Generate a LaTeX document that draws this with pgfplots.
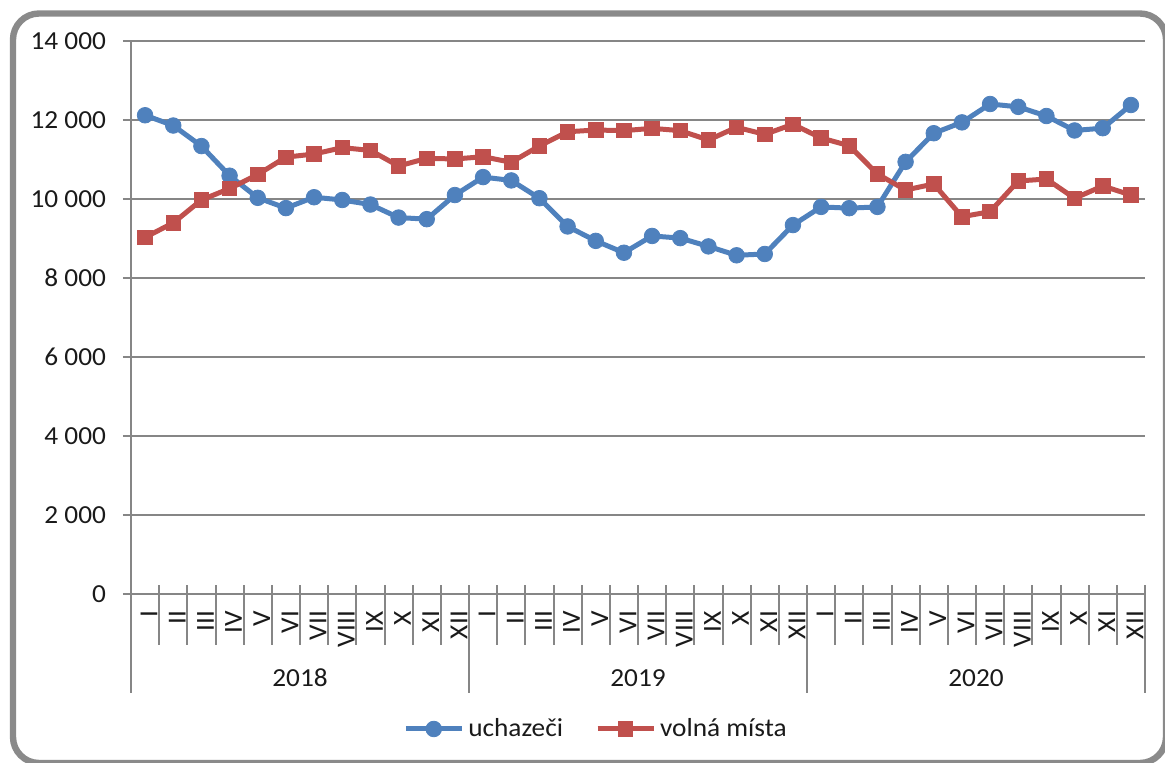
\documentclass[border=0pt]{standalone}
\usepackage{pgfplots}
\pgfplotsset{compat=1.18}
\usepackage{fontspec}
\setmainfont{Carlito}[FakeStretch=1.05]
\definecolor{ublue}{HTML}{4F81BD}
\definecolor{vred}{HTML}{C0504D}
\definecolor{gridgray}{HTML}{868686}
\definecolor{bordergray}{HTML}{8A8A8A}
\definecolor{txt}{HTML}{1A1A1A}

\pgfplotstableread{
x uch vol
0 12120 9030
1 11860 9395
2 11340 9975
3 10590 10265
4 10030 10620
5 9770 11060
6 10045 11139
7 9975 11300
8 9860 11230
9 9530 10835
10 9490 11030
11 10100 11013
12 10555 11070
13 10470 10930
14 10020 11342
15 9305 11702
16 8940 11747
17 8640 11730
18 9065 11789
19 9010 11730
20 8800 11494
21 8575 11815
22 8608 11637
23 9340 11891
24 9800 11545
25 9768 11349
26 9800 10633
27 10940 10228
28 11665 10380
29 11940 9552
30 12405 9679
31 12333 10456
32 12101 10506
33 11735 10018
34 11793 10329
35 12380 10101
}\datatable

\begin{document}
\fontsize{13}{15}\selectfont
\begin{tikzpicture}
\useasboundingbox (0,0) rectangle (582.5pt,381pt);
\begin{axis}[
  at={(65.5pt,84pt)}, anchor=south west,
  scale only axis, width=507pt, height=276.5pt,
  xmin=-0.5, xmax=35.5, ymin=0, ymax=14000,
  axis x line*=bottom, axis y line*=left,
  axis line style={gridgray, line width=1pt, -},
  scaled y ticks=false,
  ytick={0,2000,4000,6000,8000,10000,12000,14000},
  yticklabels={0,2~000,4~000,6~000,8~000,10~000,12~000,14~000},
  ymajorgrids, grid style={gridgray, line width=1pt},
  ytick style={gridgray, line width=1pt},
  tick align=outside, major tick length=4pt,
  xtick={0,...,35},
  xticklabels={I,II,III,IV,V,VI,VII,VIII,IX,X,XI,XII,I,II,III,IV,V,VI,VII,VIII,IX,X,XI,XII,I,II,III,IV,V,VI,VII,VIII,IX,X,XI,XII},
  xtick style={draw=none},
  xticklabel style={rotate=90, anchor=east, yshift=-2pt},
  yticklabel style={xshift=-4pt},
  ticklabel style={font=\fontsize{13}{15}\selectfont, color=txt},
  clip=false,
  legend style={at={(axis description cs:0.4596,-0.2441)}, anchor=center,
    draw=none, fill=none, legend columns=2, font=\fontsize{13}{15}\selectfont,
    text=txt, inner sep=0pt,
    /tikz/every even column/.append style={column sep=14pt}},
  legend cell align=left,
  legend image code/.code={\draw[#1, mark repeat=2, mark phase=2] plot coordinates {(0pt,0pt)(14pt,0pt)(28pt,0pt)};},
]
\addplot[ublue, line width=2.5pt, mark=*, mark size=3.9pt, mark options={solid, fill=ublue, line width=0.4pt}] table[x=x, y=uch] {\datatable};
\addlegendentry{uchazeči}
\addplot[vred, line width=2.5pt, mark=square*, mark size=3.6pt, mark options={solid, fill=vred, line width=0.4pt}] table[x=x, y=vol] {\datatable};
\addlegendentry{volná místa}
\end{axis}
\begin{scope}[x=0.5pt, y=-0.5pt, shift={(0pt,381pt)}]
  \foreach \i in {1,...,11,13,14,...,23,25,26,...,35}
    \draw[gridgray, line width=1pt] ({131+\i*28.1667},585) -- ({131+\i*28.1667},645);
  \foreach \i in {0,12,24,36}
    \draw[gridgray, line width=1pt] ({131+\i*28.1667},585) -- ({131+\i*28.1667},693);
  \node[text=txt, font=\fontsize{13}{15}\selectfont] at (300,678) {2018};
  \node[text=txt, font=\fontsize{13}{15}\selectfont] at (638,678) {2019};
  \node[text=txt, font=\fontsize{13}{15}\selectfont] at (976,678) {2020};
  \draw[bordergray, line width=3.2pt, rounded corners=13pt] (13,13.5) rectangle (1166,763);
\end{scope}
\end{tikzpicture}
\end{document}
